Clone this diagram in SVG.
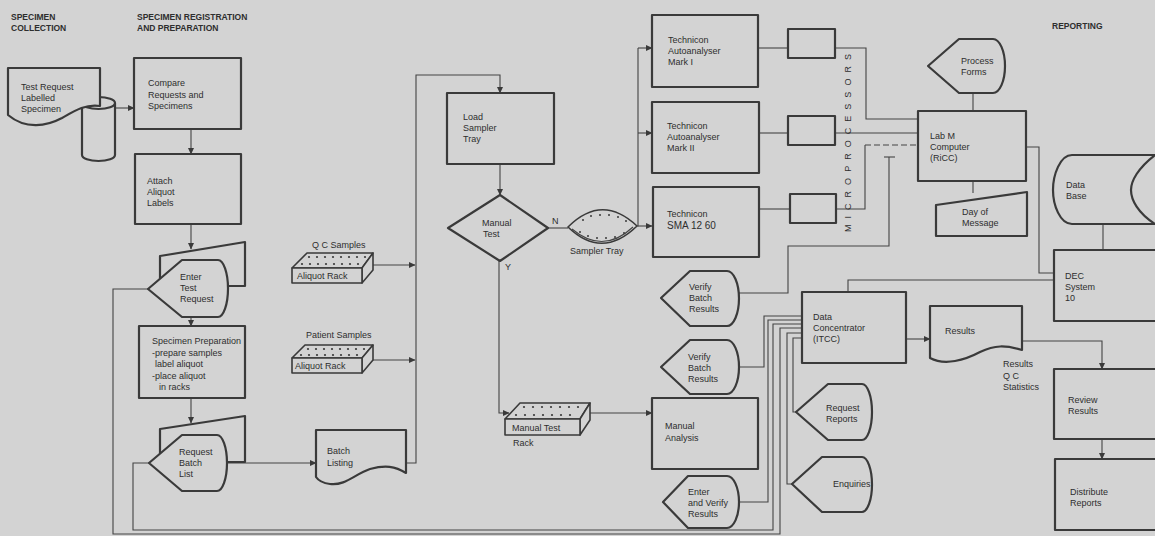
<svg xmlns="http://www.w3.org/2000/svg" width="1155" height="536" viewBox="0 0 1155 536">
<defs>
<marker id="ah" markerWidth="7" markerHeight="7" refX="6" refY="3.5" orient="auto" markerUnits="userSpaceOnUse">
<path d="M0,0.5 L6.5,3.5 L0,6.5 Z" fill="#3a3a3a"/>
</marker>
</defs>
<style>
.bg{fill:#d3d3d3}
.n{fill:#d3d3d3;stroke:#3a3a3a;stroke-width:2.2;stroke-linejoin:round}
.th{fill:#d3d3d3;stroke:#3a3a3a;stroke-width:1.6;stroke-linejoin:round}
.c{fill:none;stroke:#444;stroke-width:1.1}
.d{fill:none;stroke:#444;stroke-width:1.1;stroke-dasharray:6 3}
.a{marker-end:url(#ah)}
text{font-family:"Liberation Sans",Arial,sans-serif;font-size:9px;fill:#2e2e2e}
.h{font-weight:bold;font-size:8.5px}
.dot{fill:#3a3a3a}
</style>
<rect class="bg" x="0" y="0" width="1155" height="536"/>

<g id="headings">
<text class="h" x="11" y="20">SPECIMEN</text>
<text class="h" x="11" y="31">COLLECTION</text>
<text class="h" x="137" y="20">SPECIMEN REGISTRATION</text>
<text class="h" x="137" y="31">AND PREPARATION</text>
<text class="h" x="1052" y="29">REPORTING</text>
</g>

<g id="connectors">
<path class="c a" d="M115,108 H134"/>
<path class="c a" d="M191,129 V154"/>
<path class="c a" d="M191,224 V249"/>
<path class="c a" d="M191,317 V326"/>
<path class="c a" d="M191,398 V423"/>
<path class="c a" d="M227,463 H316"/>
<path class="c a" d="M406,463 H416 V75 H500 V93"/>
<path class="c a" d="M373,265 H415"/>
<path class="c a" d="M373,360 H415"/>
<path class="c a" d="M500,164 V195"/>
<path class="c" d="M548,228 H568"/>
<path class="c a" d="M499,261 V413 H509"/>
<path class="c a" d="M590,413 H652"/>
<path class="c" d="M637,226 H638 V48"/>
<path class="c a" d="M638,48 H652"/>
<path class="c a" d="M638,133 H652"/>
<path class="c a" d="M638,226 H652"/>
<path class="c" d="M758,48 H788"/>
<path class="c" d="M759,133 H788"/>
<path class="c" d="M759,209 H790"/>
<path class="c" d="M835,48 H866 V119 H918"/>
<path class="c" d="M835,133 H918"/>
<path class="c" d="M836,209 H865 V145"/>
<path class="d" d="M865,145 H918"/>
<path class="c" d="M973,93 V111"/>
<path class="c" d="M973,181 V193"/>
<path class="c" d="M1026,147 H1039 V273 H1054"/>
<path class="c" d="M1103,224 V250"/>
<path class="c" d="M739,293 H788 V246 H889 V157"/>
<path class="c" d="M884,157 H895"/>
<path class="c" d="M848,293 V280 H1054"/>
<path class="c a" d="M906,339 H930"/>
<path class="c a" d="M1022,341 H1102 V369"/>
<path class="c a" d="M1102,439 V459"/>
<path class="c" d="M148,289 H113 V534 H780 V328 H802"/>
<path class="c" d="M149,463 H133 V530 H773 V324 H802"/>
<path class="c" d="M738,367 H764 V316 H802"/>
<path class="c" d="M739,502 H768 V320 H802"/>
<path class="c" d="M792,484 H787 V333 H802"/>
<path class="c" d="M796,412 H793 V338 H802"/>
</g>

<g id="test-request">
<path class="n" d="M82,103 V155 A16.5,6 0 0 0 115,155 V103"/>
<ellipse class="n" cx="98.5" cy="103" rx="16.5" ry="6"/>
<path class="n" d="M8,68 H100 V106 C86,104 76,110 62,118 C47,126 26,130 8,115 Z"/>
<text x="21" y="90">Test Request</text>
<text x="21" y="101">Labelled</text>
<text x="21" y="112">Specimen</text>
</g>

<g id="compare">
<rect class="n" x="134" y="58" width="107" height="71"/>
<text x="148" y="86">Compare</text>
<text x="148" y="98">Requests and</text>
<text x="148" y="109">Specimens</text>
</g>

<g id="attach">
<rect class="n" x="135" y="154" width="106" height="70"/>
<text x="147" y="184">Attach</text>
<text x="147" y="195">Aliquot</text>
<text x="147" y="206">Labels</text>
</g>

<g id="enter-test-request">
<path class="n" d="M160,256 L245,242 V286 H160 Z"/>
<path class="n" d="M148,289 L182,260 H218 A10,28.5 0 0 1 218,317 H182 Z"/>
<text x="180" y="280">Enter</text>
<text x="180" y="291">Test</text>
<text x="180" y="302">Request</text>
</g>

<g id="specimen-preparation">
<rect class="n" x="139" y="326" width="106" height="72"/>
<text x="152" y="344">Specimen Preparation</text>
<text x="152" y="356">-prepare samples</text>
<text x="155" y="367">label aliquot</text>
<text x="152" y="379">-place aliquot</text>
<text x="159" y="390">in racks</text>
</g>

<g id="request-batch-list">
<path class="n" d="M160,429 L245,416 V462 H160 Z"/>
<path class="n" d="M149,463 L182,435 H217 A10,28 0 0 1 217,491 H182 Z"/>
<text x="179" y="455">Request</text>
<text x="179" y="466">Batch</text>
<text x="179" y="477">List</text>
</g>

<g id="batch-listing">
<path class="n" d="M316,430 H406 V473 C395,466 385,465 370,469 C355,474 345,486 330,484 C322,483 318,480 316,477 Z"/>
<text x="327" y="454">Batch</text>
<text x="327" y="466">Listing</text>
</g>

<g id="qc-samples">
<text x="312" y="248">Q C  Samples</text>
<path class="th" d="M292,268 L307,253 H373 L362,268 Z"/>
<path class="th" d="M362,268 L373,253 V270 L362,283 Z"/>
<rect class="th" x="292" y="268" width="70" height="15"/>
<g class="dot">
<circle cx="309" cy="257" r="1.1"/><circle cx="317" cy="257" r="1.1"/><circle cx="325" cy="257" r="1.1"/><circle cx="333" cy="257" r="1.1"/><circle cx="341" cy="257" r="1.1"/><circle cx="349" cy="257" r="1.1"/><circle cx="357" cy="257" r="1.1"/><circle cx="365" cy="257" r="1.1"/>
<circle cx="302" cy="264" r="1.1"/><circle cx="310" cy="264" r="1.1"/><circle cx="318" cy="264" r="1.1"/><circle cx="326" cy="264" r="1.1"/><circle cx="334" cy="264" r="1.1"/><circle cx="342" cy="264" r="1.1"/><circle cx="350" cy="264" r="1.1"/><circle cx="358" cy="264" r="1.1"/>
</g>
<text x="297" y="279">Aliquot  Rack</text>
</g>

<g id="patient-samples">
<text x="306" y="338">Patient  Samples</text>
<path class="th" d="M292,358 L305,345 H373 L362,358 Z"/>
<path class="th" d="M362,358 L373,345 V360 L362,373 Z"/>
<rect class="th" x="292" y="358" width="70" height="15"/>
<g class="dot">
<circle cx="308" cy="349" r="1.1"/><circle cx="316" cy="349" r="1.1"/><circle cx="324" cy="349" r="1.1"/><circle cx="332" cy="349" r="1.1"/><circle cx="340" cy="349" r="1.1"/><circle cx="348" cy="349" r="1.1"/><circle cx="356" cy="349" r="1.1"/><circle cx="364" cy="349" r="1.1"/>
<circle cx="301" cy="355" r="1.1"/><circle cx="309" cy="355" r="1.1"/><circle cx="317" cy="355" r="1.1"/><circle cx="325" cy="355" r="1.1"/><circle cx="333" cy="355" r="1.1"/><circle cx="341" cy="355" r="1.1"/><circle cx="349" cy="355" r="1.1"/><circle cx="357" cy="355" r="1.1"/>
</g>
<text x="295" y="369">Aliquot  Rack</text>
</g>

<g id="load-sampler-tray">
<rect class="n" x="447" y="93" width="107" height="71"/>
<text x="463" y="120">Load</text>
<text x="463" y="131">Sampler</text>
<text x="463" y="142">Tray</text>
</g>

<g id="manual-test">
<path class="n" d="M500,195 L548,228 L500,261 L448,228 Z"/>
<text x="482" y="226">Manual</text>
<text x="483" y="237">Test</text>
<text x="552" y="224">N</text>
<text x="505" y="270">Y</text>
</g>

<g id="sampler-tray">
<path class="th" d="M568,227 Q602,193 637,226 Q602,260 568,227 Z"/>
<path class="c" d="M572,229 Q603,255 633,227"/>
<g class="dot">
<circle cx="583" cy="220" r="1"/><circle cx="591" cy="216" r="1"/><circle cx="600" cy="215" r="1"/><circle cx="609" cy="215" r="1"/><circle cx="618" cy="217" r="1"/><circle cx="626" cy="221" r="1"/>
<circle cx="580" cy="232" r="1"/><circle cx="588" cy="236" r="1"/><circle cx="597" cy="238" r="1"/><circle cx="606" cy="238" r="1"/><circle cx="615" cy="237" r="1"/><circle cx="624" cy="233" r="1"/>
</g>
<text x="570" y="254">Sampler Tray</text>
</g>

<g id="manual-test-rack">
<path class="th" d="M505,419 L520,403 H590 L580,419 Z"/>
<path class="th" d="M580,419 L590,403 V420 L580,435 Z"/>
<rect class="th" x="505" y="419" width="75" height="16"/>
<g class="dot">
<circle cx="524" cy="407" r="1.1"/><circle cx="533" cy="407" r="1.1"/><circle cx="542" cy="407" r="1.1"/><circle cx="551" cy="407" r="1.1"/><circle cx="560" cy="407" r="1.1"/><circle cx="569" cy="407" r="1.1"/><circle cx="578" cy="407" r="1.1"/>
<circle cx="516" cy="415" r="1.1"/><circle cx="525" cy="415" r="1.1"/><circle cx="534" cy="415" r="1.1"/><circle cx="543" cy="415" r="1.1"/><circle cx="552" cy="415" r="1.1"/><circle cx="561" cy="415" r="1.1"/><circle cx="570" cy="415" r="1.1"/>
</g>
<text x="512" y="431">Manual  Test</text>
<text x="513" y="446">Rack</text>
</g>

<g id="technicon-mark-1">
<rect class="n" x="652" y="15" width="106" height="72"/>
<text x="668" y="43">Technicon</text>
<text x="668" y="54">Autoanalyser</text>
<text x="668" y="65">Mark  I</text>
</g>

<g id="technicon-mark-2">
<rect class="n" x="652" y="102" width="107" height="71"/>
<text x="667" y="129">Technicon</text>
<text x="667" y="140">Autoanalyser</text>
<text x="667" y="151">Mark  II</text>
</g>

<g id="technicon-sma">
<rect class="n" x="653" y="187" width="106" height="70"/>
<text x="667" y="217">Technicon</text>
<text x="667" y="229" style="font-size:10px">SMA  12  60</text>
</g>

<g id="micro-1"><rect class="n" x="788" y="29" width="47" height="29"/></g>
<g id="micro-2"><rect class="n" x="788" y="116" width="47" height="29"/></g>
<g id="micro-3"><rect class="n" x="790" y="194" width="46" height="29"/></g>

<g id="microprocessors-label">
<text transform="translate(851,143) rotate(-90)" x="0" y="0" text-anchor="middle" textLength="178" lengthAdjust="spacing">MICROPROCESSORS</text>
</g>

<g id="process-forms">
<path class="n" d="M928,66 L959,39 H993 A12,27 0 0 1 993,93 H959 Z"/>
<text x="961" y="64">Process</text>
<text x="961" y="75">Forms</text>
</g>

<g id="lab-m-computer">
<rect class="n" x="918" y="111" width="108" height="70"/>
<text x="930" y="139">Lab M</text>
<text x="930" y="150">Computer</text>
<text x="930" y="161">(RiCC)</text>
</g>

<g id="day-of-message">
<path class="n" d="M936,205 L1027,192 V236 H936 Z"/>
<text x="962" y="215">Day  of</text>
<text x="962" y="226">Message</text>
</g>

<g id="data-base">
<path class="n" d="M1072,155 H1155 C1138,168 1131,181 1131,190 C1131,200 1138,213 1155,224 H1072 C1060,224 1053,205 1053,190 C1053,175 1060,155 1072,155 Z"/>
<text x="1066" y="188">Data</text>
<text x="1066" y="199">Base</text>
</g>

<g id="dec-system-10">
<rect class="n" x="1054" y="250" width="110" height="71"/>
<text x="1065" y="279">DEC</text>
<text x="1065" y="290">System</text>
<text x="1065" y="301">10</text>
</g>

<g id="verify-batch-results-1">
<path class="n" d="M661,298 L690,271 H727 A12,27.5 0 0 1 727,326 H690 Z"/>
<text x="689" y="290">Verify</text>
<text x="689" y="301">Batch</text>
<text x="689" y="312">Results</text>
</g>

<g id="verify-batch-results-2">
<path class="n" d="M661,367 L690,340 H727 A12,27 0 0 1 727,394 H690 Z"/>
<text x="688" y="360">Verify</text>
<text x="688" y="371">Batch</text>
<text x="688" y="382">Results</text>
</g>

<g id="data-concentrator">
<rect class="n" x="802" y="292" width="104" height="71"/>
<text x="813" y="320">Data</text>
<text x="813" y="331">Concentrator</text>
<text x="813" y="342">(ITCC)</text>
</g>

<g id="results">
<path class="n" d="M930,306 H1022 V350 C1005,345 995,345 980,352 C965,360 945,366 930,358 Z"/>
<text x="945" y="334">Results</text>
<text x="1003" y="367">Results</text>
<text x="1003" y="379">Q C</text>
<text x="1003" y="390">Statistics</text>
</g>

<g id="review-results">
<rect class="n" x="1054" y="369" width="110" height="70"/>
<text x="1068" y="403">Review</text>
<text x="1068" y="414">Results</text>
</g>

<g id="distribute-reports">
<rect class="n" x="1055" y="459" width="110" height="71"/>
<text x="1070" y="495">Distribute</text>
<text x="1070" y="506">Reports</text>
</g>

<g id="manual-analysis">
<rect class="n" x="652" y="398" width="106" height="71"/>
<text x="665" y="429">Manual</text>
<text x="665" y="441">Analysis</text>
</g>

<g id="enter-verify-results">
<path class="n" d="M663,502 L688,476 H727 A12,26 0 0 1 727,528 H688 Z"/>
<text x="688" y="495">Enter</text>
<text x="688" y="506">and Verify</text>
<text x="688" y="517">Results</text>
</g>

<g id="request-reports">
<path class="n" d="M796,412 L828,384 H862 A10,28 0 0 1 862,440 H828 Z"/>
<text x="826" y="411">Request</text>
<text x="826" y="422">Reports</text>
</g>

<g id="enquiries">
<path class="n" d="M792,484 L822,457 H862 A10,27.5 0 0 1 862,512 H822 Z"/>
<text x="833" y="487">Enquiries</text>
</g>
</svg>
